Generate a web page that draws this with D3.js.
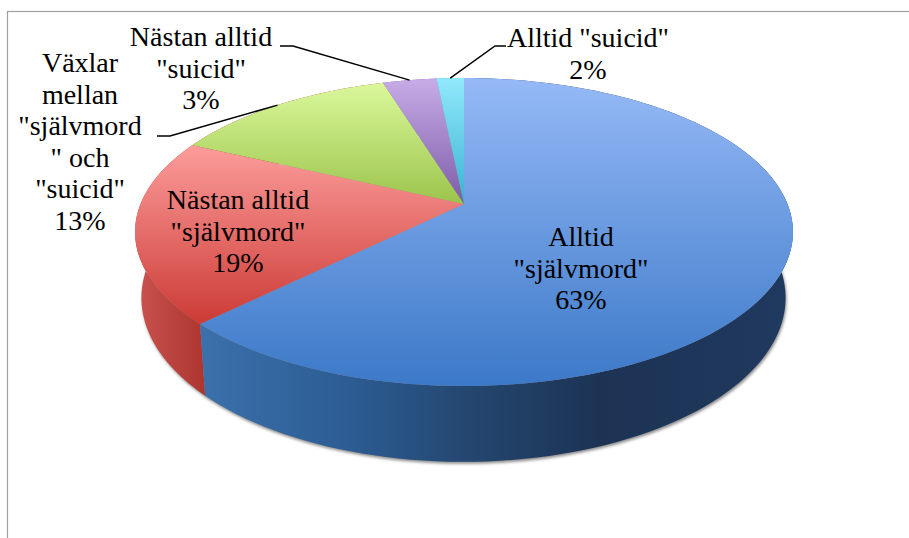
<!DOCTYPE html>
<html><head><meta charset="utf-8">
<script src="https://cdn.jsdelivr.net/npm/d3@7"></script>
<style>html,body{margin:0;padding:0;background:#fff}svg{display:block}
text{font-family:"Liberation Serif",serif;font-size:28px;fill:#000;text-anchor:middle}</style>
</head><body><svg id="c" width="909" height="538"></svg>
<script>
const categories = ['Alltid "självmord"','Nästan alltid "självmord"','Växlar mellan "självmord" och "suicid"','Nästan alltid "suicid"','Alltid "suicid"'];
const values = [62.6, 19.4, 13.25, 3.15, 1.6];
const labelLines = [['Alltid','"självmord"'],['Nästan alltid','"självmord"'],['Växlar','mellan','"självmord','" och','"suicid"'],['Nästan alltid','"suicid"'],['Alltid "suicid"']];
const topStops = [['#95b9f6','#3c79c8'],['#fb9c9a','#cc3a35'],['#dcf99d','#9bc44b'],['#c6abe6','#7d5ba8'],['#90e8fb','#38b2d2']];
const sideStops = [
  [[205,'#3b70ab'],[350,'#2c5c93'],[470,'#24466f'],[600,'#1c3354'],[790,'#20395e']],
  [[136,'#c9534f'],[208,'#ad342d']],
  [[136,'#c9534f'],[208,'#ad342d']],
  [[136,'#7d5ba8'],[208,'#7d5ba8']],
  [[136,'#38b2d2'],[208,'#38b2d2']]
];

const svg = d3.select('#c'), defs = svg.append('defs');
const CX = 464, CX2 = 463.5, APEX = 204, P = 0.1818, RX = 323.5, RY = 148.9;
const SX = 0.979, SY = 1.065, APEX2 = 268;
const project = a => { const u = Math.sin(a), v = Math.cos(a), w = 1 + P*v; return [RX*u/w, -RY*v/w]; };
const topPt = a => { const p = project(a); return [CX+p[0], APEX+p[1]]; };
const lowPt = a => { const p = project(a); return [CX2+p[0]*SX, APEX2+p[1]*SY]; };
const arcSamples = (s,e) => d3.range(0,121).map(i => s+(e-s)*i/120);
const line = d3.line();
const slices = d3.pie().sort(null).value(d=>d)(values);

// frame
svg.append('rect').attr('x',7.5).attr('y',11.5).attr('width',1000).attr('height',1000)
  .attr('fill','#fff').attr('stroke','#a0a0a0').attr('stroke-width',1.2);

// shadow
const blur = defs.append('filter').attr('id','sh').attr('x','-5%').attr('y','-5%').attr('width','110%').attr('height','110%');
blur.append('feGaussianBlur').attr('stdDeviation',1.8);
svg.append('path').attr('d',line(arcSamples(0,2*Math.PI).map(lowPt))+'Z').attr('transform','translate(1,2)')
  .attr('fill','#8a8a8a').attr('filter','url(#sh)');

// gradients
slices.forEach((s,i)=>{
  const g = defs.append('linearGradient').attr('id','t'+i).attr('gradientUnits','userSpaceOnUse')
    .attr('x1',0).attr('x2',0).attr('y1',i===0?78:(i===1?147:80)).attr('y2',i===0?386:(i===1?325:205));
  g.append('stop').attr('offset',0).attr('stop-color',topStops[i][0]);
  g.append('stop').attr('offset',1).attr('stop-color',topStops[i][1]);
  const x0=sideStops[i][0][0], x1=sideStops[i][sideStops[i].length-1][0];
  const h = defs.append('linearGradient').attr('id','s'+i).attr('gradientUnits','userSpaceOnUse')
    .attr('y1',0).attr('y2',0).attr('x1',x0).attr('x2',x1);
  sideStops[i].forEach(st=>h.append('stop').attr('offset',(st[0]-x0)/(x1-x0)).attr('stop-color',st[1]));
});

// sides (back to front), then top faces
const order = [4,3,2,1,0];
svg.append('g').selectAll('path').data(order).join('path')
  .attr('d',i=>{const a=arcSamples(slices[i].startAngle,slices[i].endAngle);
    return line(a.map(topPt).concat(a.slice().reverse().map(lowPt)))+'Z';})
  .attr('fill',i=>`url(#s${i})`);
svg.append('g').selectAll('path').data(slices).join('path')
  .attr('d',s=>line([[CX,APEX]].concat(arcSamples(s.startAngle,s.endAngle).map(topPt)))+'Z')
  .attr('fill',(s,i)=>`url(#t${i})`);

// leader lines, anchored on slice mid-angle
const leaders = [{i:2,elbow:[[170,136],[157,136]]},{i:3,elbow:[[293,46],[280,46]]},{i:4,elbow:[[495,46],[506,46]]}];
svg.append('g').selectAll('path').data(leaders).join('path')
  .attr('d',l=>{const s=slices[l.i];return line([topPt((s.startAngle+s.endAngle)/2)].concat(l.elbow));})
  .attr('fill','none').attr('stroke','#000').attr('stroke-width',1.5);

// labels
const labelPos = [[581,246],[238,209],[80,72],[201,46],[588,47]];
const pct = d3.format('.0f');
const lh = 31.5;
const tg = svg.append('g');
values.forEach((v,i)=>{
  const lines = labelLines[i].concat([pct(v)+'%']);
  const t = tg.append('text').attr('x',labelPos[i][0]).attr('y',labelPos[i][1]);
  lines.forEach((l,j)=>t.append('tspan').attr('x',labelPos[i][0]).attr('y',labelPos[i][1]+j*lh).text(l));
});
</script></body></html>
